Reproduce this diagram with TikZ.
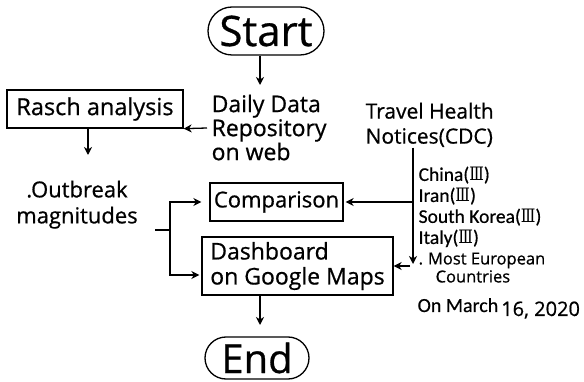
\documentclass[tikz,border=0pt]{standalone}
\usepackage{fontspec}
\usepackage{graphicx}
\setmainfont{Open Sans}[FakeBold=0.7]
\newfontfamily\calib{Carlito}[FakeBold=0.5]
\newfontfamily\romnum{DejaVu Serif}
\usetikzlibrary{arrows.meta}

% roman numeral three used in the country list
\newcommand\levelthree{\scalebox{0.82}[1]{\romnum\fontsize{18.5}{18.5}\selectfont Ⅲ}}

\begin{document}
\begin{tikzpicture}[x=1pt,y=-1pt,line width=1.3pt,
  arr/.style={-{Stealth[length=8pt,width=8pt,inset=2.5pt]}},
  pill/.style={draw,inner sep=0pt,rounded corners=21pt},
  box/.style={draw,inner sep=0pt},
  txt/.style={inner sep=0pt,align=left},
  sz/.style={font=\fontsize{#1}{#1}\selectfont}]
\useasboundingbox (0,0) rectangle (584,382);

% terminals
\node[pill,minimum width=116pt,minimum height=48pt,rounded corners=24pt,sz=42] (start) at (266,31) {Start};
\node[pill,minimum width=104pt,minimum height=42pt,sz=40] (end) at (257,358) {End};

% process boxes
\node[box,minimum width=176pt,minimum height=38pt,sz=23.5] (rasch) at (95,109) {Rasch analysis};
\node[box,minimum width=133pt,minimum height=38pt,sz=22] (comp) at (276.5,202) {Comparison};
\node[box,minimum width=191pt,minimum height=58pt,align=left,font=\fontsize{23}{25}\selectfont] (dash) at (297.5,266) {Dashboard\\on Google Maps};

% free text blocks
\node[txt,anchor=north west,font=\fontsize{23}{24}\selectfont] (repo) at (211,94) {Daily Data\\Repository\\on web};
\node[txt,anchor=north west,font=\fontsize{21}{25}\selectfont] (cdc) at (365,102) {Travel Health\\Notices(CDC)};
\node[txt,anchor=north,align=center,font=\fontsize{22}{26}\selectfont] (outbreak) at (77,180) {.Outbreak\\magnitudes};
\node[txt,anchor=north west,font=\calib\fontsize{19.5}{21}\selectfont] (list) at (418,166)
  {China(\levelthree)\\Iran(\levelthree)\\South Korea(\levelthree)\\Italy(\levelthree)};
\node[txt,anchor=north west,font=\fontsize{16.5}{18}\selectfont] (euro) at (418,252)
  {.\hspace{5pt}Most European\\\hspace{17pt}Countries};
\node[txt,anchor=base west] (date) at (417,312)
  {{\calib\fontsize{20}{20}\selectfont On March}\hspace{3pt}\raisebox{-4pt}{\fontsize{20}{20}\selectfont 16, 2020}};

% connector end points
\coordinate (dd) at (260,85);
\coordinate (rtail) at (207,128);
\coordinate (rd) at (88,155);
\coordinate (stub) at (155,230);
\coordinate (fork) at (170,230);
\coordinate (cdcend) at (413,264);
\coordinate (dtail) at (410,266);
\coordinate (ed) at (260,325);

% connectors
\draw[arr] (start.south -| dd) -- (dd);
\draw[arr] (rtail) -- (rasch.south east);
\draw[arr] (rasch.south -| rd) -- (rd);
\draw (stub) -- (fork);
\draw[arr] (fork) |- ([xshift=-8pt]comp.west);
\draw[arr] (fork) |- ([xshift=-2pt,yshift=-9pt]dash.west);
\draw[arr] (cdc.south -| cdcend) -- (cdcend);
\draw[arr] (cdcend |- comp.east) -- ([xshift=2pt]comp.east);
\draw[arr] (dtail) -- (dtail -| dash.east);
\draw[arr] (dash.south -| ed) -- (ed);
\end{tikzpicture}
\end{document}
